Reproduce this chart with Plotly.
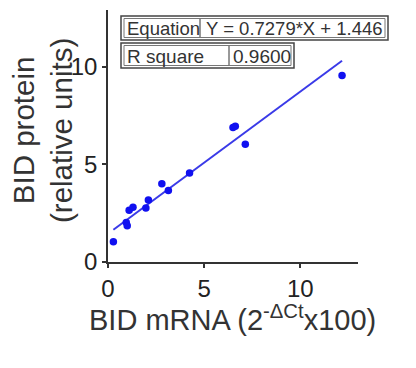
import plotly.graph_objects as go

# Data
mrna = [0.28, 0.95, 1.0, 1.1, 1.3, 1.97, 2.1, 2.8, 3.14, 4.24, 6.5, 6.62, 7.14, 12.17]
protein = [1.04, 2.02, 1.85, 2.65, 2.8, 2.76, 3.18, 4.0, 3.66, 4.55, 6.88, 6.95, 6.03, 9.55]
slope = 0.7279
intercept = 1.446
r_square = "0.9600"
x_ticks = [0, 5, 10]
y_ticks = [0, 5, 10]

OFF = 8  # page body margin
W, H = 416, 368
L, T = 108 - OFF, 10 - OFF
PW, PH = 250, 252
R = W - L - PW
B = H - T - PH

def px(x):
    return (x - OFF - L) / PW

def py(y):
    return (T + PH - (y - OFF)) / PH

x_line = [min(mrna), max(mrna)]
y_line = [slope * v + intercept for v in x_line]

fig = go.Figure()
fig.add_trace(go.Scatter(x=x_line, y=y_line, mode="lines",
                         line=dict(color="#3a3ae8", width=2), showlegend=False,
                         hoverinfo="skip"))
fig.add_trace(go.Scatter(x=mrna, y=protein, mode="markers",
                         marker=dict(color="#1010f0", size=7.5), showlegend=False))

font = "Liberation Sans, Arial, sans-serif"
axis_common = dict(showgrid=False, zeroline=False, showline=True, linecolor="#333",
                   linewidth=1.5, ticks="outside", ticklen=4, tickwidth=1.5,
                   tickcolor="#333", tickfont=dict(family=font, size=24, color="#222"))
fig.update_xaxes(range=[0, 13], tickvals=x_ticks, **axis_common)
fig.update_yaxes(range=[0, 12.9], tickvals=y_ticks, **axis_common)

shapes = []
def cell(x0, x1, y0, y1):
    shapes.append(dict(type="rect", xref="paper", yref="paper",
                       x0=px(x0), x1=px(x1), y0=py(y1), y1=py(y0),
                       line=dict(color="#777", width=1), fillcolor="rgba(0,0,0,0)"))
def outer(x0, x1, y0, y1):
    shapes.append(dict(type="rect", xref="paper", yref="paper",
                       x0=px(x0), x1=px(x1), y0=py(y1), y1=py(y0),
                       line=dict(color="#444", width=1.5), fillcolor="rgba(0,0,0,0)"))

outer(121, 388, 16, 40)
cell(124, 200, 18.5, 37.5)
cell(200, 385, 18.5, 37.5)
outer(121, 294, 43, 68)
cell(124, 229, 45.5, 65.5)
cell(229, 291, 45.5, 65.5)

annotations = []
def txt(x, y, s, size=18.5, anchor="left", angle=0):
    annotations.append(dict(xref="paper", yref="paper", x=px(x), y=py(y), text=s,
                            showarrow=False, xanchor=anchor, yanchor="middle",
                            textangle=angle,
                            font=dict(family=font, size=size, color="#333")))

txt(125, 28.5, "Equation", size=18.5)
txt(204, 28.5, "Y = 0.7279*X + 1.446")
txt(125, 56, "R square", size=19)
txt(231, 56, r_square, size=19)

# Axis titles
annotations.append(dict(xref="paper", yref="paper", x=px(232), y=py(318),
                        text="BID mRNA (2<sup>-ΔCt</sup>x100)", showarrow=False,
                        xanchor="center", yanchor="middle",
                        font=dict(family=font, size=29, color="#333")))
annotations.append(dict(xref="paper", yref="paper", x=px(43), y=py(131),
                        text="BID protein<br>(relative units)", showarrow=False,
                        xanchor="center", yanchor="middle", textangle=-90,
                        font=dict(family=font, size=29.5, color="#333")))

fig.update_layout(width=W, height=H, margin=dict(l=L, r=R, t=T, b=B),
                  plot_bgcolor="white", paper_bgcolor="white",
                  shapes=shapes, annotations=annotations)

fig.write_html("out.html")
